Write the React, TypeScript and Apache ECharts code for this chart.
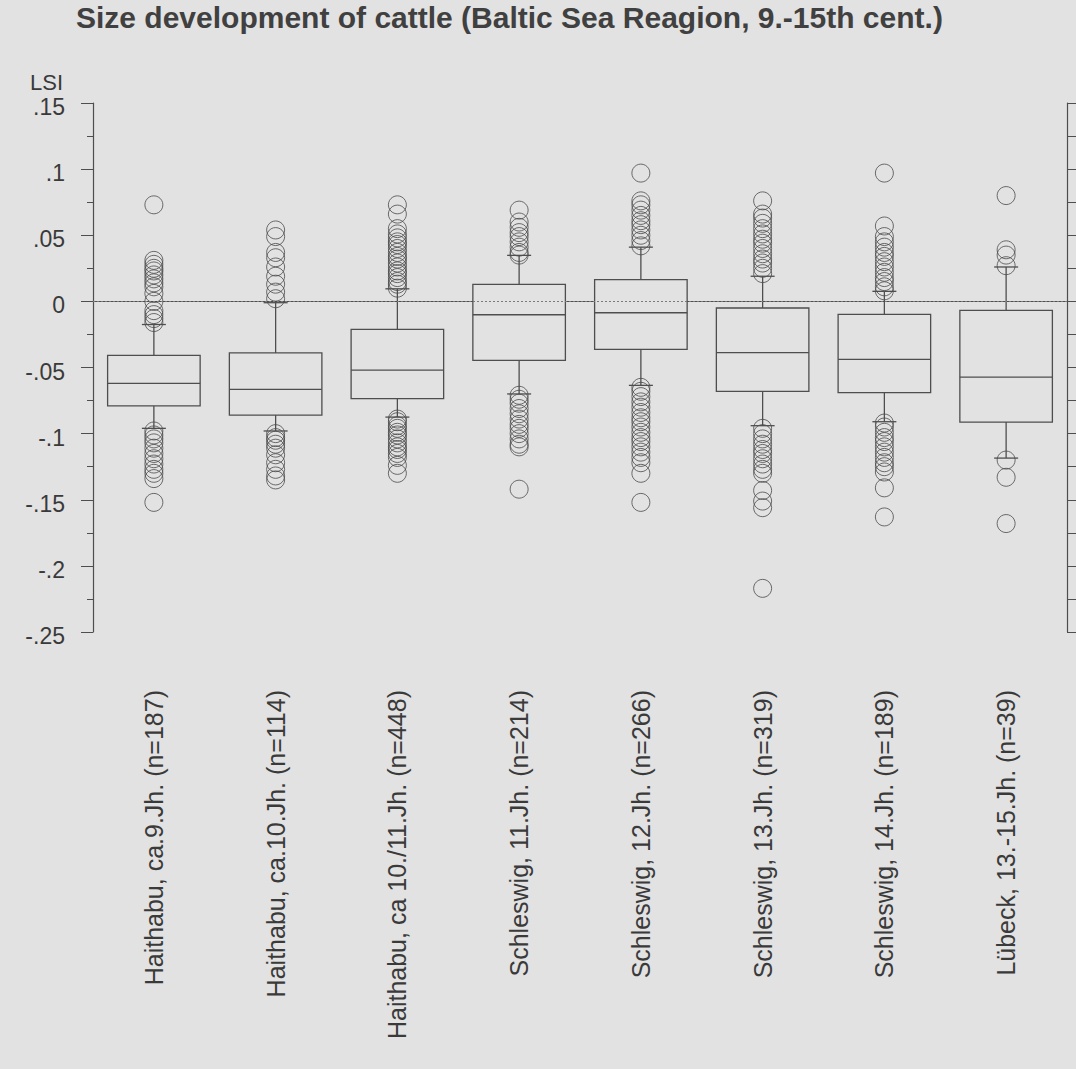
import React, { useEffect, useRef } from 'react';
import * as echarts from 'echarts';

const TITLE = 'Size development of cattle (Baltic Sea Reagion, 9.-15th cent.)';
const Y_NAME = 'LSI';

const categories = [
  'Haithabu, ca.9.Jh. (n=187)',
  'Haithabu, ca.10.Jh. (n=114)',
  'Haithabu, ca 10./11.Jh. (n=448)',
  'Schleswig, 11.Jh. (n=214)',
  'Schleswig, 12.Jh. (n=266)',
  'Schleswig, 13.Jh. (n=319)',
  'Schleswig, 14.Jh. (n=189)',
  'Lübeck, 13.-15.Jh. (n=39)',
];

// Box statistics per sample (whisker ends, quartiles, median)
const whiskerLow = [-0.096, -0.098, -0.0875, -0.07, -0.0635, -0.094, -0.091, -0.1185];
const quartile1 = [-0.079, -0.086, -0.0736, -0.0446, -0.0363, -0.068, -0.069, -0.0913];
const medians = [-0.062, -0.0666, -0.052, -0.0101, -0.0086, -0.0388, -0.0439, -0.0573];
const quartile3 = [-0.0408, -0.039, -0.0212, 0.0129, 0.0164, -0.005, -0.0098, -0.0068];
const whiskerHigh = [-0.0175, -0.001, 0.0095, 0.0348, 0.041, 0.019, 0.0076, 0.026];

// Outlying values per sample
const outHaithabu9 = [
  0.073, 0.031, 0.028, 0.025, 0.023, 0.02, 0.017, 0.014, 0.011, 0.006, 0.0, -0.007, -0.01, -0.013, -0.016,
  -0.098, -0.101, -0.104, -0.107, -0.111, -0.115, -0.119, -0.123, -0.127, -0.13, -0.134, -0.152,
];
const outHaithabu10 = [
  0.054, 0.049, 0.037, 0.033, 0.026, 0.019, 0.013, 0.007, 0.002,
  -0.1, -0.103, -0.105, -0.108, -0.111, -0.116, -0.122, -0.127, -0.132, -0.135,
];
const outHaithabu1011 = [
  0.073, 0.066, 0.055, 0.051, 0.048, 0.045, 0.043, 0.04, 0.037, 0.034, 0.032, 0.029, 0.026, 0.023, 0.021, 0.018,
  0.015, 0.013, 0.01,
  -0.089, -0.091, -0.094, -0.096, -0.099, -0.101, -0.104, -0.107, -0.11, -0.112, -0.115, -0.118, -0.124, -0.13,
];
const outSchleswig11 = [
  0.069, 0.06, 0.056, 0.052, 0.049, 0.045, 0.041, 0.037, 0.035,
  -0.071, -0.074, -0.077, -0.081, -0.085, -0.089, -0.093, -0.096, -0.1, -0.104, -0.108, -0.11, -0.142,
];
const outSchleswig12 = [
  0.097, 0.076, 0.073, 0.069, 0.065, 0.061, 0.058, 0.054, 0.05, 0.046, 0.042,
  -0.065, -0.068, -0.072, -0.076, -0.08, -0.084, -0.088, -0.091, -0.095, -0.099, -0.103, -0.106, -0.11, -0.114,
  -0.118, -0.122, -0.13, -0.152,
];
const outSchleswig13 = [
  0.076, 0.066, 0.063, 0.059, 0.055, 0.051, 0.047, 0.044, 0.04, 0.036, 0.032, 0.029, 0.025, 0.021,
  -0.096, -0.1, -0.104, -0.108, -0.112, -0.115, -0.119, -0.123, -0.127, -0.13, -0.143, -0.151, -0.156, -0.217,
];
const outSchleswig14 = [
  0.097, 0.057, 0.049, 0.045, 0.041, 0.037, 0.034, 0.03, 0.026, 0.022, 0.018, 0.015, 0.011, 0.008,
  -0.092, -0.095, -0.099, -0.103, -0.106, -0.11, -0.114, -0.118, -0.122, -0.125, -0.129, -0.141, -0.163,
];
const outLuebeck = [0.08, 0.039, 0.035, 0.027, -0.12, -0.133, -0.168];

const outliers = [
  outHaithabu9,
  outHaithabu10,
  outHaithabu1011,
  outSchleswig11,
  outSchleswig12,
  outSchleswig13,
  outSchleswig14,
  outLuebeck,
];

const yMin = -0.25;
const yMax = 0.15;
const yStep = 0.05;
const yTickLabels = ['-.25', '-.2', '-.15', '-.1', '-.05', '0', '.05', '.1', '.15'];

const BG = '#e2e2e2';
const INK = '#4e4e4e';
const TEXT = '#3a3a3a';
const FONT = '"Liberation Sans", Arial, Helvetica, sans-serif';
const BOX_RATIO = 0.76;
const CAP_HALF = 12;

export default function App() {
  const ref = useRef<HTMLDivElement>(null);

  useEffect(() => {
    if (!ref.current) return;
    const chart = echarts.init(ref.current, null, { renderer: 'svg' });

    const boxData = categories.map((_, i) => [
      i,
      whiskerLow[i],
      quartile1[i],
      medians[i],
      quartile3[i],
      whiskerHigh[i],
    ]);
    const pointData: number[][] = [];
    outliers.forEach((list, i) => list.forEach((v) => pointData.push([i, v])));

    const stroke = { stroke: INK, lineWidth: 1.3 };

    const option: any = {
      animation: false,
      backgroundColor: BG,
      title: {
        text: TITLE,
        left: 76,
        top: 2,
        padding: 0,
        textStyle: { fontFamily: FONT, fontSize: 30, fontWeight: 'bold', color: '#404040' },
      },
      grid: { left: 93, right: 9, top: 103, bottom: 437 },
      xAxis: [
        {
          type: 'category',
          data: categories,
          position: 'bottom',
          axisLine: { lineStyle: { color: INK, width: 1.2 } },
          axisTick: { alignWithLabel: true, length: 4, lineStyle: { color: INK } },
          axisLabel: { rotate: 90, margin: 58, fontSize: 25, color: TEXT, fontFamily: FONT },
          splitLine: { show: false },
        },
        {
          type: 'category',
          data: categories,
          position: 'top',
          axisLine: { lineStyle: { color: INK, width: 1.2 } },
          axisTick: { alignWithLabel: true, length: 5, lineStyle: { color: INK } },
          axisLabel: { show: false },
          splitLine: { show: false },
        },
      ],
      yAxis: [
        {
          type: 'value',
          position: 'left',
          min: yMin,
          max: yMax,
          interval: yStep,
          name: Y_NAME,
          nameLocation: 'end',
          nameGap: 21,
          nameTextStyle: {
            fontFamily: FONT,
            fontSize: 22,
            color: TEXT,
            align: 'right',
            verticalAlign: 'middle',
            padding: [0, 30, 0, 0],
          },
          axisLine: { show: true, lineStyle: { color: INK, width: 1.2 } },
          axisTick: { show: true, length: 12, lineStyle: { color: INK } },
          minorTick: { show: true, splitNumber: 2, length: 6, lineStyle: { color: INK } },
          splitLine: { show: false },
          minorSplitLine: { show: false },
          axisLabel: {
            margin: 28,
            color: TEXT,
            fontFamily: FONT,
            fontSize: 23,
            formatter: (v: number) => '{t|' + yTickLabels[Math.round((v - yMin) / yStep)] + '}',
            rich: {
              t: { fontFamily: FONT, fontSize: 23, color: TEXT, padding: [8, 0, 0, 0] },
            },
          },
        },
        {
          type: 'value',
          position: 'right',
          min: yMin,
          max: yMax,
          interval: yStep / 2,
          axisLine: { show: true, lineStyle: { color: INK, width: 1.2 } },
          axisTick: { show: true, length: 10, lineStyle: { color: INK } },
          axisLabel: { show: false },
          splitLine: { show: false },
        },
      ],
      series: [
        {
          type: 'scatter',
          xAxisIndex: 0,
          yAxisIndex: 0,
          z: 2,
          symbol: 'circle',
          symbolSize: 18,
          itemStyle: { color: 'rgba(0,0,0,0)', borderColor: '#4a4a4a', borderWidth: 1 },
          data: pointData,
          markLine: {
            silent: true,
            symbol: 'none',
            label: { show: false },
            lineStyle: { color: '#7a7a7a', type: [2, 2], width: 1 },
            data: [{ yAxis: 0 }],
          },
        },
        {
          type: 'custom',
          xAxisIndex: 0,
          yAxisIndex: 0,
          z: 3,
          encode: { x: 0, y: [1, 2, 3, 4, 5] },
          data: boxData,
          renderItem: (_params: any, api: any) => {
            const idx = api.value(0);
            const lo = api.coord([idx, api.value(1)]);
            const b1 = api.coord([idx, api.value(2)]);
            const md = api.coord([idx, api.value(3)]);
            const b3 = api.coord([idx, api.value(4)]);
            const hi = api.coord([idx, api.value(5)]);
            const w = api.size([1, 0])[0] * BOX_RATIO;
            const cx = md[0];
            return {
              type: 'group',
              children: [
                { type: 'line', shape: { x1: cx, y1: b3[1], x2: cx, y2: hi[1] }, style: stroke },
                { type: 'line', shape: { x1: cx - CAP_HALF, y1: hi[1], x2: cx + CAP_HALF, y2: hi[1] }, style: stroke },
                { type: 'line', shape: { x1: cx, y1: b1[1], x2: cx, y2: lo[1] }, style: stroke },
                { type: 'line', shape: { x1: cx - CAP_HALF, y1: lo[1], x2: cx + CAP_HALF, y2: lo[1] }, style: stroke },
                {
                  type: 'rect',
                  shape: { x: cx - w / 2, y: b3[1], width: w, height: b1[1] - b3[1] },
                  style: { stroke: INK, lineWidth: 1.3, fill: BG },
                },
                { type: 'line', shape: { x1: cx - w / 2, y1: md[1], x2: cx + w / 2, y2: md[1] }, style: stroke },
              ],
            };
          },
        },
      ],
    };

    chart.setOption(option);
    return () => chart.dispose();
  }, []);

  return (
    <div
      ref={ref}
      style={{ position: 'fixed', left: 0, top: 0, width: 1076, height: 1069, background: BG }}
    />
  );
}
